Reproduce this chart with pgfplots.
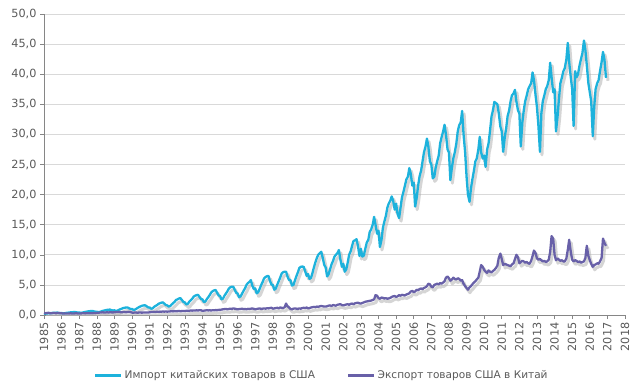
\documentclass[border=0pt]{standalone}
\usepackage{pgfplots}
\pgfplotsset{compat=1.18}
\usepackage{pgfplotstable}
\usepackage{fontspec}
\setmainfont{DejaVu Sans}
\definecolor{imp}{RGB}{29,178,220}
\definecolor{expc}{RGB}{104,96,168}
\definecolor{gridc}{RGB}{217,217,217}
\definecolor{axc}{RGB}{134,134,134}
\definecolor{txt}{RGB}{89,89,89}

\pgfplotstableread[row sep=\\]{
x y\\
1985.00 0.25\\ 1985.08 0.22\\ 1985.17 0.26\\ 1985.25 0.28\\ 1985.33 0.30\\ 1985.42 0.32\\ 1985.50 0.35\\ 1985.58 0.36\\ 1985.67 0.38\\ 1985.75 0.40\\ 1985.83 0.35\\ 1985.92 0.33\\
1986.00 0.33\\ 1986.08 0.28\\ 1986.17 0.30\\ 1986.25 0.34\\ 1986.33 0.37\\ 1986.42 0.40\\ 1986.50 0.44\\ 1986.58 0.46\\ 1986.67 0.48\\ 1986.75 0.50\\ 1986.83 0.45\\ 1986.92 0.42\\
1987.00 0.42\\ 1987.08 0.36\\ 1987.17 0.40\\ 1987.25 0.45\\ 1987.33 0.50\\ 1987.42 0.55\\ 1987.50 0.60\\ 1987.58 0.63\\ 1987.67 0.66\\ 1987.75 0.68\\ 1987.83 0.60\\ 1987.92 0.55\\
1988.00 0.55\\ 1988.08 0.48\\ 1988.17 0.52\\ 1988.25 0.60\\ 1988.33 0.68\\ 1988.42 0.74\\ 1988.50 0.80\\ 1988.58 0.85\\ 1988.67 0.88\\ 1988.75 0.90\\ 1988.83 0.80\\ 1988.92 0.75\\
1989.00 0.78\\ 1989.08 0.68\\ 1989.17 0.72\\ 1989.25 0.85\\ 1989.33 0.95\\ 1989.42 1.05\\ 1989.50 1.15\\ 1989.58 1.20\\ 1989.67 1.25\\ 1989.75 1.25\\ 1989.83 1.12\\ 1989.92 1.00\\
1990.00 1.00\\ 1990.08 0.85\\ 1990.17 0.90\\ 1990.25 1.05\\ 1990.33 1.20\\ 1990.42 1.35\\ 1990.50 1.45\\ 1990.58 1.55\\ 1990.67 1.60\\ 1990.75 1.60\\ 1990.83 1.45\\ 1990.92 1.25\\
1991.00 1.25\\ 1991.08 1.05\\ 1991.17 1.10\\ 1991.25 1.35\\ 1991.33 1.50\\ 1991.42 1.65\\ 1991.50 1.85\\ 1991.58 1.95\\ 1991.67 2.05\\ 1991.75 2.10\\ 1991.83 1.90\\ 1991.92 1.65\\
1992.00 1.60\\ 1992.08 1.40\\ 1992.17 1.50\\ 1992.25 1.75\\ 1992.33 1.95\\ 1992.42 2.20\\ 1992.50 2.50\\ 1992.58 2.60\\ 1992.67 2.75\\ 1992.75 2.80\\ 1992.83 2.50\\ 1992.92 2.15\\
1993.00 2.10\\ 1993.08 1.75\\ 1993.17 1.85\\ 1993.25 2.20\\ 1993.33 2.45\\ 1993.42 2.70\\ 1993.50 3.05\\ 1993.58 3.20\\ 1993.67 3.30\\ 1993.75 3.35\\ 1993.83 3.00\\ 1993.92 2.65\\
1994.00 2.60\\ 1994.08 2.15\\ 1994.17 2.25\\ 1994.25 2.65\\ 1994.33 2.95\\ 1994.42 3.35\\ 1994.50 3.75\\ 1994.58 3.95\\ 1994.67 4.10\\ 1994.75 4.15\\ 1994.83 3.70\\ 1994.92 3.25\\
1995.00 3.15\\ 1995.08 2.60\\ 1995.17 2.75\\ 1995.25 3.20\\ 1995.33 3.55\\ 1995.42 3.95\\ 1995.50 4.40\\ 1995.58 4.60\\ 1995.67 4.70\\ 1995.75 4.70\\ 1995.83 4.20\\ 1995.92 3.70\\
1996.00 3.55\\ 1996.08 2.95\\ 1996.17 3.10\\ 1996.25 3.55\\ 1996.33 4.00\\ 1996.42 4.45\\ 1996.50 5.00\\ 1996.58 5.30\\ 1996.67 5.50\\ 1996.75 5.80\\ 1996.83 4.90\\ 1996.92 4.30\\
1997.00 4.40\\ 1997.08 3.60\\ 1997.17 3.80\\ 1997.25 4.35\\ 1997.33 4.95\\ 1997.42 5.50\\ 1997.50 6.10\\ 1997.58 6.30\\ 1997.67 6.45\\ 1997.75 6.50\\ 1997.83 5.70\\ 1997.92 5.05\\
1998.00 5.00\\ 1998.08 4.20\\ 1998.17 4.40\\ 1998.25 5.05\\ 1998.33 5.60\\ 1998.42 6.25\\ 1998.50 6.90\\ 1998.58 7.10\\ 1998.67 7.20\\ 1998.75 7.20\\ 1998.83 6.40\\ 1998.92 5.80\\
1999.00 5.80\\ 1999.08 4.90\\ 1999.17 5.00\\ 1999.25 5.70\\ 1999.33 6.40\\ 1999.42 7.10\\ 1999.50 7.80\\ 1999.58 8.00\\ 1999.67 8.05\\ 1999.75 8.00\\ 1999.83 7.30\\ 1999.92 6.50\\
2000.00 6.80\\ 2000.08 6.00\\ 2000.17 6.20\\ 2000.25 7.00\\ 2000.33 7.90\\ 2000.42 8.80\\ 2000.50 9.50\\ 2000.58 10.00\\ 2000.67 10.30\\ 2000.75 10.50\\ 2000.83 9.50\\ 2000.92 8.30\\
2001.00 7.90\\ 2001.08 6.40\\ 2001.17 6.80\\ 2001.25 7.60\\ 2001.33 8.40\\ 2001.42 9.00\\ 2001.50 9.70\\ 2001.58 10.00\\ 2001.67 10.30\\ 2001.75 10.80\\ 2001.83 9.30\\ 2001.92 8.00\\
2002.00 8.50\\ 2002.08 7.20\\ 2002.17 7.60\\ 2002.25 8.70\\ 2002.33 10.00\\ 2002.42 10.60\\ 2002.50 11.50\\ 2002.58 12.30\\ 2002.67 12.40\\ 2002.75 12.60\\ 2002.83 11.50\\ 2002.92 9.80\\
2003.00 11.00\\ 2003.08 9.70\\ 2003.17 9.90\\ 2003.25 11.00\\ 2003.33 12.00\\ 2003.42 12.50\\ 2003.50 13.80\\ 2003.58 14.20\\ 2003.67 15.00\\ 2003.75 16.30\\ 2003.83 15.00\\ 2003.92 13.50\\
2004.00 14.00\\ 2004.08 11.30\\ 2004.17 12.50\\ 2004.25 14.50\\ 2004.33 15.50\\ 2004.42 16.50\\ 2004.50 17.80\\ 2004.58 18.50\\ 2004.67 19.00\\ 2004.75 19.70\\ 2004.83 19.00\\ 2004.92 17.50\\
2005.00 18.50\\ 2005.08 16.80\\ 2005.17 16.10\\ 2005.25 17.80\\ 2005.33 19.50\\ 2005.42 20.50\\ 2005.50 21.50\\ 2005.58 22.50\\ 2005.67 23.00\\ 2005.75 24.40\\ 2005.83 23.50\\ 2005.92 21.50\\
2006.00 22.00\\ 2006.08 18.00\\ 2006.17 19.50\\ 2006.25 21.50\\ 2006.33 23.00\\ 2006.42 24.00\\ 2006.50 25.50\\ 2006.58 27.00\\ 2006.67 28.00\\ 2006.75 29.30\\ 2006.83 28.00\\ 2006.92 25.50\\
2007.00 25.00\\ 2007.08 22.70\\ 2007.17 23.00\\ 2007.25 24.50\\ 2007.33 25.50\\ 2007.42 26.50\\ 2007.50 28.50\\ 2007.58 29.50\\ 2007.67 30.50\\ 2007.75 31.60\\ 2007.83 30.00\\ 2007.92 27.50\\
2008.00 27.00\\ 2008.08 22.40\\ 2008.17 24.50\\ 2008.25 26.00\\ 2008.33 27.00\\ 2008.42 28.50\\ 2008.50 30.50\\ 2008.58 31.50\\ 2008.67 32.00\\ 2008.75 33.90\\ 2008.83 30.00\\ 2008.92 27.00\\
2009.00 23.00\\ 2009.08 20.00\\ 2009.17 18.80\\ 2009.25 21.00\\ 2009.33 22.50\\ 2009.42 24.00\\ 2009.50 25.50\\ 2009.58 26.00\\ 2009.67 27.50\\ 2009.75 29.60\\ 2009.83 27.00\\ 2009.92 26.00\\
2010.00 26.50\\ 2010.08 24.60\\ 2010.17 27.50\\ 2010.25 28.50\\ 2010.33 30.50\\ 2010.42 33.00\\ 2010.50 34.00\\ 2010.58 35.40\\ 2010.67 35.20\\ 2010.75 35.00\\ 2010.83 33.50\\ 2010.92 31.30\\
2011.00 30.50\\ 2011.08 27.10\\ 2011.17 29.50\\ 2011.25 31.00\\ 2011.33 33.00\\ 2011.42 34.00\\ 2011.50 35.50\\ 2011.58 36.50\\ 2011.67 36.80\\ 2011.75 37.40\\ 2011.83 35.50\\ 2011.92 34.00\\
2012.00 33.50\\ 2012.08 28.00\\ 2012.17 32.00\\ 2012.25 34.00\\ 2012.33 35.50\\ 2012.42 36.50\\ 2012.50 37.50\\ 2012.58 38.00\\ 2012.67 38.50\\ 2012.75 40.30\\ 2012.83 39.00\\ 2012.92 36.50\\
2013.00 34.50\\ 2013.08 31.50\\ 2013.17 27.10\\ 2013.25 33.50\\ 2013.33 35.50\\ 2013.42 36.50\\ 2013.50 37.50\\ 2013.58 38.00\\ 2013.67 39.00\\ 2013.75 41.90\\ 2013.83 39.50\\ 2013.92 37.00\\
2014.00 37.50\\ 2014.08 30.50\\ 2014.17 33.00\\ 2014.25 36.00\\ 2014.33 38.50\\ 2014.42 39.50\\ 2014.50 40.50\\ 2014.58 41.00\\ 2014.67 42.50\\ 2014.75 45.20\\ 2014.83 42.00\\ 2014.92 39.50\\
2015.00 37.50\\ 2015.08 31.40\\ 2015.17 40.50\\ 2015.25 39.50\\ 2015.33 40.00\\ 2015.42 41.50\\ 2015.50 42.50\\ 2015.58 43.50\\ 2015.67 45.60\\ 2015.75 44.00\\ 2015.83 41.50\\ 2015.92 38.50\\
2016.00 37.00\\ 2016.08 35.50\\ 2016.17 29.70\\ 2016.25 34.50\\ 2016.33 37.50\\ 2016.42 38.50\\ 2016.50 39.00\\ 2016.58 40.50\\ 2016.67 42.00\\ 2016.75 43.70\\ 2016.83 42.50\\ 2016.92 39.40\\
}\imports

\pgfplotstableread[row sep=\\]{
x y\\
1985.00 0.35\\ 1985.08 0.30\\ 1985.17 0.32\\ 1985.25 0.38\\ 1985.33 0.30\\ 1985.42 0.28\\ 1985.50 0.33\\ 1985.58 0.35\\ 1985.67 0.30\\ 1985.75 0.32\\ 1985.83 0.34\\ 1985.92 0.30\\
1986.00 0.28\\ 1986.08 0.25\\ 1986.17 0.27\\ 1986.25 0.24\\ 1986.33 0.26\\ 1986.42 0.25\\ 1986.50 0.28\\ 1986.58 0.26\\ 1986.67 0.25\\ 1986.75 0.27\\ 1986.83 0.28\\ 1986.92 0.26\\
1987.00 0.26\\ 1987.08 0.25\\ 1987.17 0.28\\ 1987.25 0.30\\ 1987.33 0.27\\ 1987.42 0.29\\ 1987.50 0.30\\ 1987.58 0.28\\ 1987.67 0.31\\ 1987.75 0.30\\ 1987.83 0.32\\ 1987.92 0.31\\
1988.00 0.35\\ 1988.08 0.38\\ 1988.17 0.40\\ 1988.25 0.42\\ 1988.33 0.45\\ 1988.42 0.40\\ 1988.50 0.43\\ 1988.58 0.45\\ 1988.67 0.42\\ 1988.75 0.46\\ 1988.83 0.44\\ 1988.92 0.43\\
1989.00 0.45\\ 1989.08 0.48\\ 1989.17 0.50\\ 1989.25 0.52\\ 1989.33 0.48\\ 1989.42 0.45\\ 1989.50 0.50\\ 1989.58 0.48\\ 1989.67 0.46\\ 1989.75 0.50\\ 1989.83 0.52\\ 1989.92 0.48\\
1990.00 0.40\\ 1990.08 0.38\\ 1990.17 0.42\\ 1990.25 0.40\\ 1990.33 0.38\\ 1990.42 0.42\\ 1990.50 0.40\\ 1990.58 0.39\\ 1990.67 0.42\\ 1990.75 0.40\\ 1990.83 0.43\\ 1990.92 0.41\\
1991.00 0.45\\ 1991.08 0.48\\ 1991.17 0.50\\ 1991.25 0.52\\ 1991.33 0.50\\ 1991.42 0.55\\ 1991.50 0.53\\ 1991.58 0.56\\ 1991.67 0.55\\ 1991.75 0.58\\ 1991.83 0.55\\ 1991.92 0.60\\
1992.00 0.55\\ 1992.08 0.58\\ 1992.17 0.60\\ 1992.25 0.62\\ 1992.33 0.60\\ 1992.42 0.65\\ 1992.50 0.62\\ 1992.58 0.64\\ 1992.67 0.66\\ 1992.75 0.63\\ 1992.83 0.65\\ 1992.92 0.68\\
1993.00 0.65\\ 1993.08 0.70\\ 1993.17 0.72\\ 1993.25 0.70\\ 1993.33 0.75\\ 1993.42 0.72\\ 1993.50 0.76\\ 1993.58 0.74\\ 1993.67 0.78\\ 1993.75 0.75\\ 1993.83 0.80\\ 1993.92 0.78\\
1994.00 0.70\\ 1994.08 0.72\\ 1994.17 0.75\\ 1994.25 0.80\\ 1994.33 0.76\\ 1994.42 0.78\\ 1994.50 0.75\\ 1994.58 0.80\\ 1994.67 0.78\\ 1994.75 0.82\\ 1994.83 0.80\\ 1994.92 0.85\\
1995.00 0.85\\ 1995.08 0.90\\ 1995.17 0.95\\ 1995.25 0.98\\ 1995.33 1.00\\ 1995.42 0.95\\ 1995.50 1.00\\ 1995.58 1.05\\ 1995.67 1.00\\ 1995.75 1.10\\ 1995.83 1.05\\ 1995.92 1.00\\
1996.00 0.95\\ 1996.08 0.98\\ 1996.17 1.00\\ 1996.25 1.05\\ 1996.33 0.98\\ 1996.42 1.00\\ 1996.50 0.95\\ 1996.58 1.02\\ 1996.67 1.00\\ 1996.75 1.05\\ 1996.83 1.08\\ 1996.92 1.02\\
1997.00 0.95\\ 1997.08 1.00\\ 1997.17 1.05\\ 1997.25 1.10\\ 1997.33 1.00\\ 1997.42 1.05\\ 1997.50 1.10\\ 1997.58 1.05\\ 1997.67 1.12\\ 1997.75 1.10\\ 1997.83 1.15\\ 1997.92 1.20\\
1998.00 1.05\\ 1998.08 1.10\\ 1998.17 1.15\\ 1998.25 1.20\\ 1998.33 1.10\\ 1998.42 1.25\\ 1998.50 1.20\\ 1998.58 1.15\\ 1998.67 1.30\\ 1998.75 1.90\\ 1998.83 1.45\\ 1998.92 1.25\\
1999.00 1.00\\ 1999.08 0.95\\ 1999.17 1.05\\ 1999.25 1.10\\ 1999.33 1.05\\ 1999.42 1.00\\ 1999.50 1.10\\ 1999.58 1.05\\ 1999.67 1.15\\ 1999.75 1.20\\ 1999.83 1.15\\ 1999.92 1.25\\
2000.00 1.10\\ 2000.08 1.15\\ 2000.17 1.25\\ 2000.25 1.30\\ 2000.33 1.35\\ 2000.42 1.30\\ 2000.50 1.40\\ 2000.58 1.35\\ 2000.67 1.45\\ 2000.75 1.50\\ 2000.83 1.45\\ 2000.92 1.40\\
2001.00 1.40\\ 2001.08 1.45\\ 2001.17 1.55\\ 2001.25 1.60\\ 2001.33 1.50\\ 2001.42 1.65\\ 2001.50 1.60\\ 2001.58 1.55\\ 2001.67 1.70\\ 2001.75 1.75\\ 2001.83 1.80\\ 2001.92 1.65\\
2002.00 1.60\\ 2002.08 1.65\\ 2002.17 1.75\\ 2002.25 1.80\\ 2002.33 1.70\\ 2002.42 1.85\\ 2002.50 1.90\\ 2002.58 1.80\\ 2002.67 1.95\\ 2002.75 2.00\\ 2002.83 2.05\\ 2002.92 1.95\\
2003.00 1.90\\ 2003.08 2.00\\ 2003.17 2.10\\ 2003.25 2.20\\ 2003.33 2.25\\ 2003.42 2.30\\ 2003.50 2.35\\ 2003.58 2.40\\ 2003.67 2.50\\ 2003.75 2.60\\ 2003.83 3.30\\ 2003.92 3.20\\
2004.00 2.80\\ 2004.08 2.70\\ 2004.17 2.90\\ 2004.25 2.85\\ 2004.33 2.75\\ 2004.42 2.80\\ 2004.50 2.70\\ 2004.58 2.75\\ 2004.67 2.85\\ 2004.75 3.00\\ 2004.83 3.10\\ 2004.92 3.15\\
2005.00 3.00\\ 2005.08 3.10\\ 2005.17 3.30\\ 2005.25 3.20\\ 2005.33 3.35\\ 2005.42 3.30\\ 2005.50 3.25\\ 2005.58 3.40\\ 2005.67 3.50\\ 2005.75 3.60\\ 2005.83 3.90\\ 2005.92 4.00\\
2006.00 3.80\\ 2006.08 3.90\\ 2006.17 4.20\\ 2006.25 4.10\\ 2006.33 4.30\\ 2006.42 4.40\\ 2006.50 4.30\\ 2006.58 4.50\\ 2006.67 4.60\\ 2006.75 4.80\\ 2006.83 5.20\\ 2006.92 5.10\\
2007.00 4.70\\ 2007.08 4.60\\ 2007.17 5.00\\ 2007.25 5.10\\ 2007.33 5.20\\ 2007.42 5.10\\ 2007.50 5.30\\ 2007.58 5.20\\ 2007.67 5.40\\ 2007.75 5.60\\ 2007.83 6.20\\ 2007.92 6.40\\
2008.00 6.10\\ 2008.08 5.70\\ 2008.17 5.90\\ 2008.25 6.20\\ 2008.33 6.00\\ 2008.42 5.90\\ 2008.50 6.10\\ 2008.58 6.00\\ 2008.67 5.70\\ 2008.75 5.80\\ 2008.83 5.20\\ 2008.92 4.80\\
2009.00 4.50\\ 2009.08 4.20\\ 2009.17 4.60\\ 2009.25 4.80\\ 2009.33 5.10\\ 2009.42 5.40\\ 2009.50 5.60\\ 2009.58 5.90\\ 2009.67 6.20\\ 2009.75 7.20\\ 2009.83 8.30\\ 2009.92 8.00\\
2010.00 7.50\\ 2010.08 7.20\\ 2010.17 7.00\\ 2010.25 7.40\\ 2010.33 7.20\\ 2010.42 7.10\\ 2010.50 7.30\\ 2010.58 7.50\\ 2010.67 7.80\\ 2010.75 8.20\\ 2010.83 9.50\\ 2010.92 10.20\\
2011.00 9.30\\ 2011.08 8.30\\ 2011.17 8.50\\ 2011.25 8.40\\ 2011.33 8.30\\ 2011.42 8.20\\ 2011.50 8.10\\ 2011.58 8.40\\ 2011.67 8.60\\ 2011.75 9.30\\ 2011.83 10.00\\ 2011.92 9.60\\
2012.00 8.60\\ 2012.08 8.80\\ 2012.17 9.00\\ 2012.25 8.90\\ 2012.33 8.70\\ 2012.42 8.80\\ 2012.50 8.60\\ 2012.58 8.50\\ 2012.67 9.00\\ 2012.75 9.80\\ 2012.83 10.70\\ 2012.92 10.30\\
2013.00 9.40\\ 2013.08 9.20\\ 2013.17 9.30\\ 2013.25 9.10\\ 2013.33 8.90\\ 2013.42 9.00\\ 2013.50 8.80\\ 2013.58 8.90\\ 2013.67 9.20\\ 2013.75 10.50\\ 2013.83 13.10\\ 2013.92 12.70\\
2014.00 10.00\\ 2014.08 9.10\\ 2014.17 9.40\\ 2014.25 9.20\\ 2014.33 9.00\\ 2014.42 9.10\\ 2014.50 8.90\\ 2014.58 8.90\\ 2014.67 9.40\\ 2014.75 10.80\\ 2014.83 12.50\\ 2014.92 10.50\\
2015.00 9.20\\ 2015.08 8.90\\ 2015.17 9.10\\ 2015.25 9.00\\ 2015.33 8.80\\ 2015.42 8.90\\ 2015.50 8.70\\ 2015.58 8.80\\ 2015.67 8.90\\ 2015.75 9.50\\ 2015.83 11.50\\ 2015.92 9.80\\
2016.00 9.10\\ 2016.08 8.50\\ 2016.17 8.00\\ 2016.25 8.30\\ 2016.33 8.40\\ 2016.42 8.60\\ 2016.50 8.50\\ 2016.58 8.90\\ 2016.67 9.50\\ 2016.75 12.70\\ 2016.83 12.00\\ 2016.92 11.50\\
}\exports

\begin{document}
\begin{tikzpicture}
\path[use as bounding box] (-44bp,-77bp) rectangle (596bp,315bp);
\begin{axis}[
  at={(0,0)}, anchor=south west,
  scale only axis, width=581bp, height=301bp,
  xmin=1985, xmax=2018, ymin=0, ymax=50,
  xtick={1985,...,2018}, ytick={0,5,...,50},
  axis lines*=left,
  axis line style={draw=axc, line width=0.8pt},
  tick style={draw=axc, line width=0.6pt},
  tick align=outside, major tick length=4bp,
  ymajorgrids, grid style={draw=gridc, line width=0.8pt},
  /pgf/number format/assume math mode=true,
  ticklabel style={font=\fontsize{11.3}{13}\selectfont, text=txt},
  x tick label style={rotate=90, anchor=east, /pgf/number format/1000 sep={}},
  y tick label style={/pgf/number format/.cd, fixed, fixed zerofill, precision=1, use comma},
  legend columns=2,
  legend style={at={(axis description cs:0.478,-0.2)}, anchor=center, draw=none, fill=none,
    font=\fontsize{10.6}{12}\selectfont, text=txt,
    /tikz/every even column/.append style={column sep=30bp}},
  legend image code/.code={\draw[#1, line width=2.8pt] (0bp,0bp) -- (26bp,0bp);},
]
\addplot[forget plot, no marks, draw=black!30, opacity=0.55, line width=3pt, line join=round, transform canvas={xshift=2bp, yshift=-3bp}] table {\imports};
\addplot[forget plot, no marks, draw=black!30, opacity=0.55, line width=3pt, line join=round, transform canvas={xshift=2bp, yshift=-3bp}] table {\exports};
\addplot[no marks, draw=imp, line width=2.3pt, line join=round] table {\imports};
\addlegendentry{Импорт китайских товаров в США}
\addplot[no marks, draw=expc, line width=2.3pt, line join=round] table {\exports};
\addlegendentry{Экспорт товаров США в Китай}
\end{axis}
\end{tikzpicture}
\end{document}
